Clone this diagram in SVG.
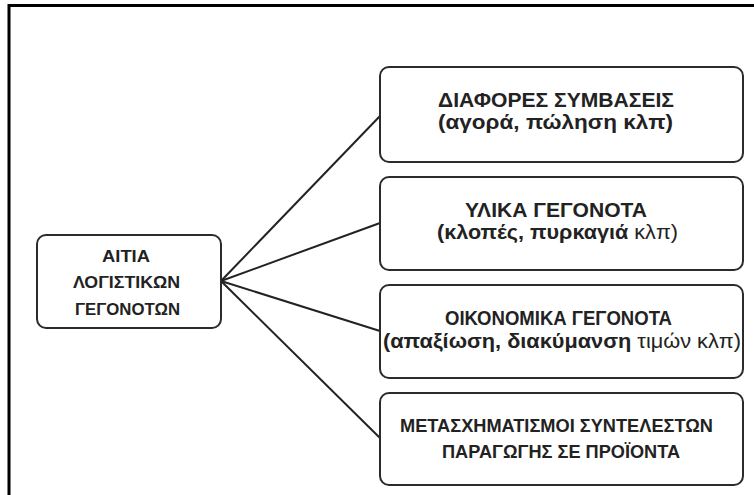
<svg xmlns="http://www.w3.org/2000/svg" width="754" height="495" viewBox="0 0 754 495">
<style>
.box{fill:#fff;stroke:#2b2b2b;stroke-width:2}
.t{font-family:"Liberation Sans",Arial,sans-serif;font-weight:bold;fill:#222;text-anchor:middle}
.n{font-weight:normal}
.c{stroke:#222;stroke-width:2;fill:none}
</style>
<rect width="754" height="495" fill="#fff"/>
<path d="M9,495 V5.5 H754" fill="none" stroke="#000" stroke-width="3"/>
<g id="connectors">
<line class="c" x1="221" y1="281" x2="380" y2="116"/>
<line class="c" x1="221" y1="281" x2="380" y2="223"/>
<line class="c" x1="221" y1="281" x2="380" y2="331"/>
<line class="c" x1="221" y1="281" x2="380" y2="438"/>
</g>
<g id="root">
<rect class="box" x="37" y="235" width="184" height="93" rx="9"/>
<text class="t" font-size="16" x="126" y="262" textLength="48" lengthAdjust="spacingAndGlyphs">ΑΙΤΙΑ</text>
<text class="t" font-size="16" x="126.5" y="288" textLength="107" lengthAdjust="spacingAndGlyphs">ΛΟΓΙΣΤΙΚΩΝ</text>
<text class="t" font-size="16" x="127.5" y="315" textLength="105" lengthAdjust="spacingAndGlyphs">ΓΕΓΟΝΟΤΩΝ</text>
</g>
<g id="n1">
<rect class="box" x="380" y="67" width="363" height="95" rx="9"/>
<text class="t" font-size="20.5" x="556" y="107" textLength="236" lengthAdjust="spacingAndGlyphs">ΔΙΑΦΟΡΕΣ ΣΥΜΒΑΣΕΙΣ</text>
<text class="t" font-size="20.5" x="555.5" y="129" textLength="235" lengthAdjust="spacingAndGlyphs">(αγορά, πώληση κλπ)</text>
</g>
<g id="n2">
<rect class="box" x="380" y="177" width="363" height="93" rx="9"/>
<text class="t" font-size="20.5" x="556" y="217" textLength="182" lengthAdjust="spacingAndGlyphs">ΥΛΙΚΑ ΓΕΓΟΝΟΤΑ</text>
<text class="t" font-size="20.5" x="557.5" y="239" textLength="241" lengthAdjust="spacingAndGlyphs">(κλοπές, πυρκαγιά <tspan class="n">κλπ)</tspan></text>
</g>
<g id="n3">
<rect class="box" x="380" y="285" width="363" height="93" rx="9"/>
<text class="t" font-size="20.5" x="558.5" y="325" textLength="227" lengthAdjust="spacingAndGlyphs">ΟΙΚΟΝΟΜΙΚΑ ΓΕΓΟΝΟΤΑ</text>
<text class="t" font-size="20.5" x="562" y="348" textLength="358" lengthAdjust="spacingAndGlyphs">(απαξίωση, διακύμανση <tspan class="n">τιμών κλπ)</tspan></text>
</g>
<g id="n4">
<rect class="box" x="380" y="393" width="363" height="92" rx="9"/>
<text class="t" font-size="19" x="556.5" y="432" textLength="313" lengthAdjust="spacingAndGlyphs">ΜΕΤΑΣΧΗΜΑΤΙΣΜΟΙ ΣΥΝΤΕΛΕΣΤΩΝ</text>
<text class="t" font-size="19" x="561" y="458" textLength="238" lengthAdjust="spacingAndGlyphs">ΠΑΡΑΓΩΓΗΣ ΣΕ ΠΡΟΪΟΝΤΑ</text>
</g>
</svg>
